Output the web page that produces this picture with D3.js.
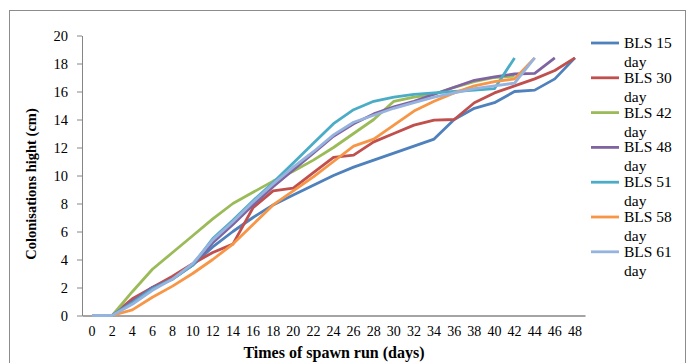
<!DOCTYPE html>
<html><head><meta charset="utf-8">
<script src="https://cdn.jsdelivr.net/npm/d3@7"></script>
<style>
html,body{margin:0;padding:0;background:#fff;}
svg{display:block;}
svg text{font-family:"Liberation Serif","Times New Roman",Times,serif !important;fill:#000;}
</style></head>
<body><svg id="c" width="692" height="363"></svg>
<script>
const days = [0,2,4,6,8,10,12,14,16,18,20,22,24,26,28,30,32,34,36,38,40,42,44,46,48];
const seriesNames = ["BLS 15 day","BLS 30 day","BLS 42 day","BLS 48 day","BLS 51 day","BLS 58 day","BLS 61 day"];
const bls15 = [0,0,1.0,2.0,2.7,3.6,4.9,6.0,7.0,7.9,8.6,9.3,10.0,10.6,11.1,11.6,12.1,12.6,14.0,14.8,15.2,16.0,16.1,16.9,18.4];
const bls30 = [0,0,1.2,2.0,2.8,3.7,4.5,5.1,7.7,8.9,9.1,10.2,11.3,11.45,12.4,13.0,13.6,13.95,14.0,15.2,15.9,16.4,16.9,17.5,18.4];
const bls42 = [0,0,1.7,3.3,4.5,5.7,6.9,8.0,8.8,9.6,10.3,11.1,12.0,13.0,14.0,15.3,15.6,15.8,16.3,16.7,17.0,17.1];
const bls48 = [0,0,1.0,2.0,2.6,3.6,5.2,6.5,7.9,9.2,10.4,11.6,12.8,13.7,14.4,14.9,15.3,15.8,16.3,16.8,17.05,17.25,17.3,18.4];
const bls51 = [0,0,0.9,1.9,2.6,3.6,5.5,6.8,8.2,9.5,10.9,12.3,13.7,14.7,15.3,15.6,15.8,15.9,16.0,16.1,16.2,18.4];
const bls58 = [0,0,0.4,1.3,2.1,3.0,4.0,5.1,6.5,7.9,8.9,9.9,11.0,12.1,12.6,13.6,14.6,15.3,15.9,16.4,16.7,16.9,18.4];
const bls61 = [0,0,0.8,1.8,2.6,3.7,5.4,6.7,8.1,9.4,10.6,11.7,12.9,13.8,14.3,14.8,15.2,15.6,15.9,16.2,16.4,16.6,18.4];
const yTicks = [0,2,4,6,8,10,12,14,16,18,20];
const colors = ["#4F81BD","#C0504D","#9BBB59","#8064A2","#4BACC6","#F79646","#95B3DE"];
const allSeries = [bls15,bls30,bls42,bls48,bls51,bls58,bls61];

const svg = d3.select("#c");
svg.append("rect").attr("x",9.5).attr("y",10.5).attr("width",676).attr("height",360)
  .attr("fill","none").attr("stroke","#8c8c8c").attr("stroke-width",1);

const x = d3.scaleBand().domain(days).range([82,585]);
const y = d3.scaleLinear().domain([0,20]).range([315.5,35.5]);

const gy = svg.append("g").attr("transform","translate(82,0)")
  .call(d3.axisLeft(y).tickValues(yTicks).tickSize(5).tickPadding(9).tickSizeOuter(0));
gy.select(".domain").attr("stroke","#868686");
gy.selectAll(".tick line").attr("stroke","#868686");
gy.selectAll(".tick text").attr("font-size",14.5);

const gx = svg.append("g").attr("transform","translate(0,315.5)")
  .call(d3.axisBottom(x).tickSize(0).tickPadding(11).tickSizeOuter(0));
gx.select(".domain").attr("stroke","#868686").attr("stroke-width",1.5);
gx.selectAll(".tick text").attr("font-size",14);

const line = d3.line().x((d,i)=>x(days[i])+x.bandwidth()/2).y(d=>y(d));
allSeries.forEach((s,k)=>{
  svg.append("path").datum(s).attr("d",line).attr("fill","none")
    .attr("stroke",colors[k]).attr("stroke-width",2.8).attr("stroke-linejoin","round");
});

svg.append("text").attr("x",334).attr("y",358).attr("text-anchor","middle")
  .attr("font-size",16).attr("font-weight","bold").text("Times of spawn run (days)");
svg.append("text").attr("transform","translate(36,184) rotate(-90)").attr("text-anchor","middle")
  .attr("font-size",14.5).attr("font-weight","bold").text("Colonisations hight (cm)");

const lg = svg.append("g");
seriesNames.forEach((n,k)=>{
  const yy = 43 + k*34.8;
  lg.append("line").attr("x1",591).attr("x2",619).attr("y1",yy).attr("y2",yy)
    .attr("stroke",colors[k]).attr("stroke-width",2.8);
  const parts = n.split(" ");
  const t = lg.append("text").attr("x",624).attr("y",yy+5).attr("font-size",15.5);
  t.append("tspan").attr("x",624).text(parts[0]+" "+parts[1]);
  t.append("tspan").attr("x",624).attr("dy",19).text(parts[2]);
});
</script></body></html>
